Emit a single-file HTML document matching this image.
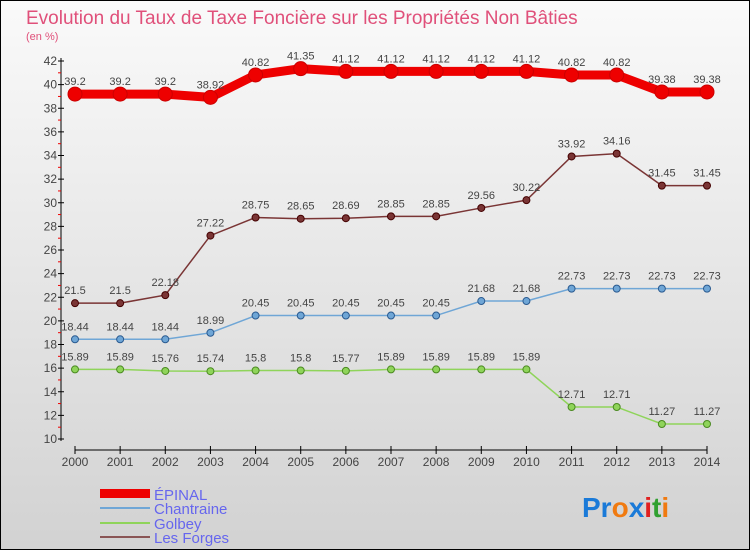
<!DOCTYPE html>
<html><head><meta charset="utf-8"><style>
body{margin:0;width:750px;height:550px;overflow:hidden;font-family:"Liberation Sans",sans-serif}
svg{display:block}
</style></head><body>
<svg id="c" width="750" height="550" xmlns="http://www.w3.org/2000/svg">
<defs><linearGradient id="bg" x1="0" y1="0" x2="0" y2="1"><stop offset="0" stop-color="#fafafa"/><stop offset="1" stop-color="#d2d2d2"/></linearGradient></defs>
<rect x="0.5" y="0.5" width="749" height="549" fill="url(#bg)" stroke="#000"/>
<text x="26" y="24" font-size="19" fill="#e0507a">Evolution du Taux de Taxe Foncière sur les Propriétés Non Bâties</text>
<text x="26" y="40" font-size="11" fill="#e0507a">(en %)</text>
<g id="axes"></g><g id="series"></g>
<g>
<rect x="100" y="489" width="50" height="9" fill="#e00"/>
<text x="154" y="500" font-size="15" fill="#6666ee">ÉPINAL</text>
<line x1="100" y1="508" x2="150" y2="508" stroke="#6fa6d6" stroke-width="2"/>
<text x="154" y="514" font-size="15" fill="#6666ee">Chantraine</text>
<line x1="100" y1="523" x2="150" y2="523" stroke="#8fd45a" stroke-width="2"/>
<text x="154" y="529" font-size="15" fill="#6666ee">Golbey</text>
<line x1="100" y1="537" x2="150" y2="537" stroke="#8a5555" stroke-width="2"/>
<text x="154" y="543" font-size="15" fill="#6666ee">Les Forges</text>
</g>
<text x="582" y="517" font-size="28" font-weight="bold"><tspan fill="#1a7ad8">Pr</tspan><tspan fill="#f07a10">o</tspan><tspan fill="#1a7ad8">x</tspan><tspan fill="#e02020">i</tspan><tspan fill="#30a030">t</tspan><tspan fill="#f07a10">i</tspan></text>
</svg>
<script>
const years=[2000,2001,2002,2003,2004,2005,2006,2007,2008,2009,2010,2011,2012,2013,2014];
const yTicks=[10,12,14,16,18,20,22,24,26,28,30,32,34,36,38,40,42];
const epinal=[39.2,39.2,39.2,38.92,40.82,41.35,41.12,41.12,41.12,41.12,41.12,40.82,40.82,39.38,39.38];
const forges=[21.5,21.5,22.18,27.22,28.75,28.65,28.69,28.85,28.85,29.56,30.22,33.92,34.16,31.45,31.45];
const chantraine=[18.44,18.44,18.44,18.99,20.45,20.45,20.45,20.45,20.45,21.68,21.68,22.73,22.73,22.73,22.73];
const golbey=[15.89,15.89,15.76,15.74,15.8,15.8,15.77,15.89,15.89,15.89,15.89,12.71,12.71,11.27,11.27];
const NS="http://www.w3.org/2000/svg";
const X=i=>75+i*(707-75)/(years.length-1);
const Y=v=>439-(v-10)*(439-61)/32;
function mk(p,t,a){const e=document.createElementNS(NS,t);for(const k in a)e.setAttribute(k,a[k]);p.appendChild(e);return e;}
const ax=document.getElementById('axes');
const yl=mk(ax,'line',{x1:61,y1:58,x2:61,y2:441,stroke:'#000'});


const yMax=yTicks[yTicks.length-1];
yTicks.forEach(t=>{const y=Y(t);
 mk(ax,'line',{x1:58,y1:y,x2:64,y2:y,stroke:'#000'});
 if(t<yMax) mk(ax,'line',{x1:58,y1:Y(t+1),x2:61,y2:Y(t+1),stroke:'#e00'});
 const tx=mk(ax,'text',{x:57,y:y+4,'font-size':12,'text-anchor':'end',fill:'#444'});tx.textContent=t;
 
 });
const xl=mk(ax,'line',{x1:75,y1:450,x2:707,y2:450,stroke:'#000'});


years.forEach((yr,i)=>{const x=X(i);
 mk(ax,'line',{x1:x,y1:446,x2:x,y2:454,stroke:'#000'});
 const tx=mk(ax,'text',{x:x,y:466,'font-size':12,'text-anchor':'middle',fill:'#444'});tx.textContent=yr;
 
 });
const sg=document.getElementById('series');
function series(name,vals,col,w,r,dark){
 const g=mk(sg,'g',{});
 
 
 mk(g,'polyline',{points:vals.map((v,i)=>X(i)+','+Y(v)).join(' '),fill:'none',stroke:col,'stroke-width':w});
 vals.forEach((v,i)=>{const c=mk(g,'circle',{cx:X(i),cy:Y(v),r:r,fill:col,stroke:dark,'stroke-width':1});
  
  
  const t=mk(g,'text',{x:X(i),y:Y(v)-9,'font-size':11,'text-anchor':'middle',fill:'#444'});t.textContent=v;
  
  });
}
series('epinal',epinal,'#e00',9,7,'#c00');
series('les-forges',forges,'#7a3535',1.5,3.5,'#400');
series('chantraine',chantraine,'#6fa6d6',1.5,3.5,'#2a5a90');
series('golbey',golbey,'#8fd45a',1.5,3.5,'#4a8a20');
</script>
</body></html>
